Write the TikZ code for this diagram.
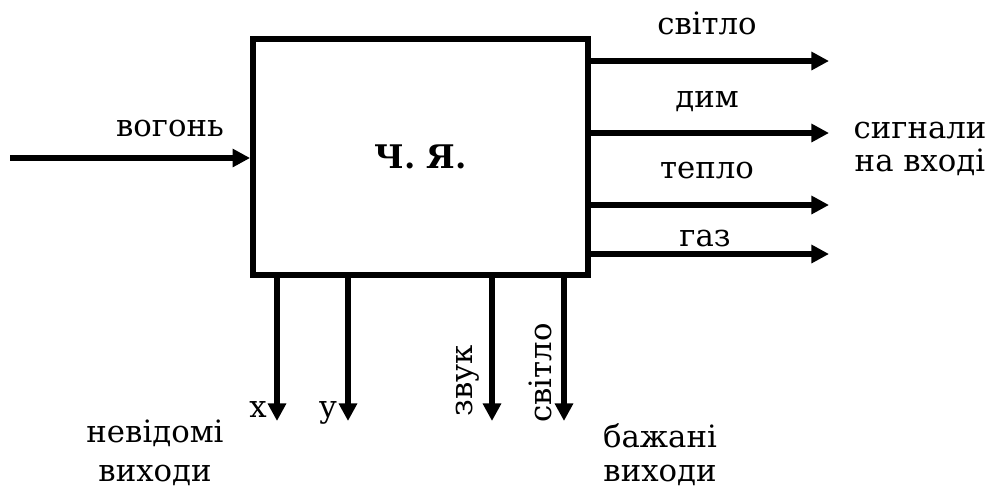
\documentclass[tikz,border=0pt]{standalone}
\usepackage{fontspec}
\setmainfont{DejaVu Serif}
\usetikzlibrary{arrows.meta,positioning,calc}

\begin{document}
\begin{tikzpicture}[x=0.02cm,y=-0.02cm,>={Triangle[length=10pt,width=10pt]},line width=3.3pt,font=\rmfamily\fontsize{17.5}{21}\selectfont]
\tikzstyle{lbl}=[inner sep=0pt,align=center]
\useasboundingbox (0,0) rectangle (992,488);
% black box
\node[draw,minimum width=335*0.02cm,minimum height=236*0.02cm,inner sep=0pt,font=\rmfamily\fontsize{18.5}{22}\selectfont\bfseries] (chya) at (420.5,157) {Ч. Я.};
% input
\coordinate (in) at (10,158);
\draw[->] (in) -- (in -| chya.west);
\node[lbl,anchor=base] (vogon) at (170,136) {вогонь};
% outputs to the right
\coordinate (o1) at (829,61);
\coordinate (o2) at (829,133);
\coordinate (o3) at (829,205);
\coordinate (o4) at (829,254);
\draw[->] (o1 -| chya.east) -- (o1);
\draw[->] (o2 -| chya.east) -- (o2);
\draw[->] (o3 -| chya.east) -- (o3);
\draw[->] (o4 -| chya.east) -- (o4);
\node[lbl,anchor=base] (t1) at (707,34) {світло};
\node[lbl,anchor=base] (t2) at (707,107) {дим};
\node[lbl,anchor=base] (t3) at (707,178) {тепло};
\node[lbl,anchor=base] (t4) at (705,246) {газ};
\node[lbl,anchor=base] (sig1) at (920,138) {сигнали};
\node[lbl,anchor=base] (sig2) at (920,171) {на вході};
% outputs down
\coordinate (d1) at (277,421);
\coordinate (d2) at (348,421);
\coordinate (d3) at (492,421);
\coordinate (d4) at (564,421);
\foreach \d in {d1,d2,d3,d4}
  \draw[->] (chya.south -| \d) -- (\d);
\node[lbl,anchor=base] (lx) at (258,417) {x};
\node[lbl,anchor=base] (ly) at (328,417) {y};
\node[lbl,rotate=90] (zvuk) at (468,381) {звук};
\node[lbl,rotate=90] (svit) at (540,373) {світло};
\node[lbl,anchor=base] (nevid1) at (155,442) {невідомі};
\node[lbl,anchor=base] (nevid2) at (155,481) {виходи};
\node[lbl,anchor=base] (bazh1) at (660,447) {бажані};
\node[lbl,anchor=base] (bazh2) at (660,481) {виходи};
\end{tikzpicture}
\end{document}
